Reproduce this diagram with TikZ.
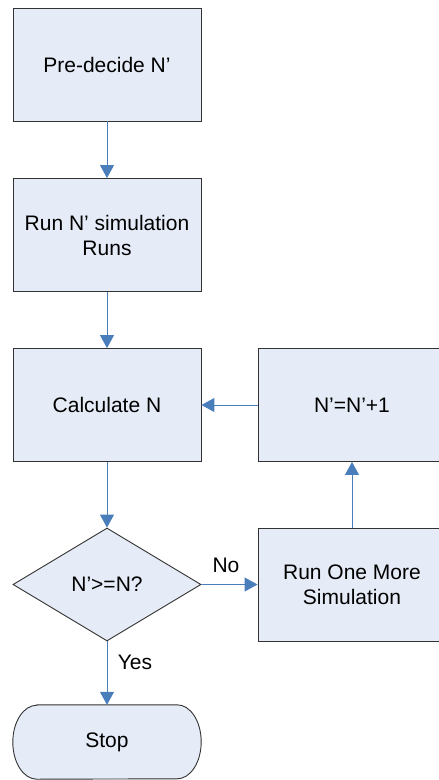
\documentclass[tikz,border=0pt]{standalone}
\usepackage{fontspec}
\setmainfont{Liberation Sans}
\usetikzlibrary{shapes.geometric,arrows.meta,backgrounds}
\definecolor{boxfill}{RGB}{230,236,247}
\definecolor{boxline}{RGB}{50,50,50}
\definecolor{flow}{RGB}{74,126,187}
\tikzset{
  base/.style={fill=boxfill, draw=boxline, line width=0.9pt, inner sep=0pt,
    font=\fontsize{21}{25}\selectfont, align=center, text=black},
  procbox/.style={base, rectangle, minimum width=188pt, minimum height=113pt},
  decision/.style={base, diamond, minimum width=188pt, minimum height=113pt},
  terminal/.style={rectangle, inner sep=0pt, minimum width=188pt, minimum height=74pt,
    font=\fontsize{21}{25}\selectfont, text=black},
  flowline/.style={draw=flow, line width=1pt, -{Triangle[width=14pt,length=13pt]}},
  lbl/.style={font=\fontsize{21}{25}\selectfont, text=black, inner sep=0pt}
}
\begin{document}
\begin{tikzpicture}[x=1pt,y=-1pt]
\useasboundingbox (0,0) rectangle (439,780);

% left column
\node[procbox] (pre)  at (107,64.5) {Pre-decide N’};
\node[procbox] (run)  at (107,235)  {Run N’ simulation\\Runs};
\node[procbox] (calc) at (107,405)  {Calculate N};
\node[decision] (test) at (107,584.5) {N’>=N?};
\node[terminal] (stop) at (107,742) {Stop};

% right column (runs past the right edge)
\node[procbox] (inc)  at (352,405)   {N’=N’+1};
\node[procbox] (more) at (352,584.5) {Run One More\\Simulation};

% terminator outline with elliptical ends
\begin{scope}[on background layer]
\filldraw[fill=boxfill, draw=boxline, line width=0.9pt]
  ([xshift=24pt]stop.north west) -- ([xshift=-24pt]stop.north east)
  arc[start angle=90, end angle=-90, x radius=24pt, y radius=37pt]
  -- ([xshift=24pt]stop.south west)
  arc[start angle=270, end angle=90, x radius=24pt, y radius=37pt] -- cycle;
\end{scope}

% connectors
\draw[flowline] (pre) -- (run);
\draw[flowline] (run) -- (calc);
\draw[flowline] (calc) -- (test);
\draw[flowline] (test) -- (stop);
\draw[flowline] (test.east) -- (more.west);
\draw[flowline] (more) -- (inc);
\draw[flowline] (inc) -- (calc);

% branch labels
\node[lbl] (no)  at (226,565) {No};
\node[lbl] (yes) at (135,662) {Yes};
\end{tikzpicture}
\end{document}
